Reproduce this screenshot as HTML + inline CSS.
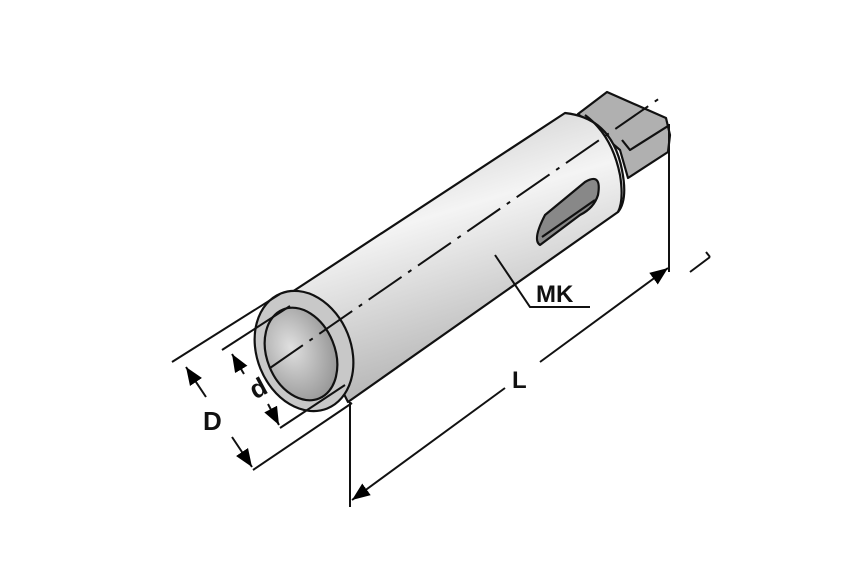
<html><body style="margin:0;background:#fff">
<svg width="850" height="567" viewBox="0 0 850 567" xmlns="http://www.w3.org/2000/svg">
<defs>
<linearGradient id="g" x1="0" y1="0" x2="0.35" y2="1">
<stop offset="0" stop-color="#bdbdbd"/><stop offset="0.45" stop-color="#f4f4f4"/><stop offset="1" stop-color="#b0b0b0"/>
</linearGradient>
<radialGradient id="ig" cx="0.4" cy="0.4" r="0.7"><stop offset="0" stop-color="#e0e0e0"/><stop offset="1" stop-color="#909090"/></radialGradient>
<marker id="a" viewBox="0 0 10 10" refX="10" refY="5" markerWidth="9" markerHeight="9" orient="auto-start-reverse"><path d="M0,1 L10,5 L0,9z" fill="#000"/></marker>
</defs>
<g stroke="#111" stroke-width="2.2" fill="none" stroke-linejoin="round">
<path d="M578,114 L607,92 L666,118 L670,135 L668,152 L628,178 L620,150z" fill="#b0b0b0"/>
<path d="M622,140 L630,150 L668,126" />
<path d="M292,292 L565,113 Q612,118 622,170 Q628,200 618,212 L348,402z" fill="url(#g)"/>
<path d="M585,115 Q612,135 620,175 Q624,200 618,212" />
<path d="M540,245 Q532,240 545,215 L585,182 Q602,172 598,195 Q594,208 580,215z" fill="#888"/>
<path d="M542,237 L595,200"/>
<ellipse cx="304" cy="351" rx="47" ry="62" transform="rotate(-22 304 351)" fill="#c8c8c8"/>
<ellipse cx="301" cy="354" rx="34" ry="48" transform="rotate(-22 301 354)" fill="url(#ig)"/>
</g>
<g stroke="#111" stroke-width="2" fill="none">
<path d="M270,368 L660,98" stroke-dasharray="40,8,4,8"/>
<path d="M172,362 L280,294"/><path d="M253,470 L352,403"/>
<line x1="186" y1="367" x2="206" y2="397" marker-start="url(#a)"/>
<line x1="232" y1="437" x2="252" y2="467" marker-end="url(#a)"/>
<path d="M222,350 L290,306"/><path d="M280,428 L345,385"/>
<line x1="232" y1="354" x2="244" y2="374" marker-start="url(#a)"/>
<line x1="268" y1="404" x2="279" y2="425" marker-end="url(#a)"/>
<path d="M350,402 L350,507"/><path d="M669,124 L669,272"/>
<line x1="352" y1="500" x2="505" y2="388" marker-start="url(#a)"/>
<line x1="540" y1="362" x2="668" y2="268" marker-end="url(#a)"/>
<path d="M690,272 L710,257 M706,252 L710,257"/>
<path d="M495,255 L530,307 L590,307"/>
</g>
<g font-family="Liberation Sans, sans-serif" font-weight="bold" fill="#111">
<text x="203" y="430" font-size="26">D</text>
<text x="0" y="9" font-size="26" text-anchor="middle" transform="translate(258,388) rotate(-28)">d</text>
<text x="512" y="388" font-size="24">L</text>
<text x="536" y="302" font-size="24">MK</text>
</g>
</svg>
</body></html>
